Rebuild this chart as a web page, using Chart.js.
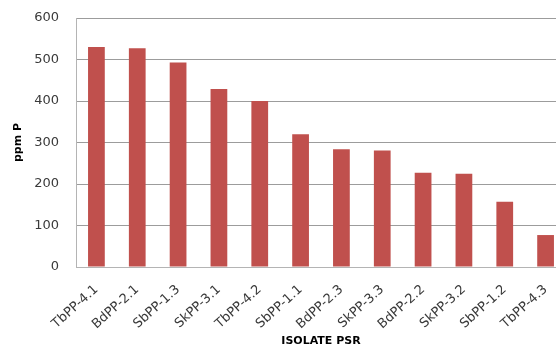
<!DOCTYPE html>
<html>
<head>
<meta charset="utf-8">
<script src="https://cdn.jsdelivr.net/npm/chart.js@4/dist/chart.umd.min.js"></script>
<style>
  html, body { margin: 0; padding: 0; background: #fff; overflow: hidden; width: 556px; height: 347px; }
  #c { display: block; }
</style>
</head>
<body>
<canvas id="c" width="566" height="347"></canvas>
<script>
// Phosphate solubilisation per isolate
const isolates = ['TbPP-4.1', 'BdPP-2.1', 'SbPP-1.3', 'SkPP-3.1', 'TbPP-4.2', 'SbPP-1.1',
                  'BdPP-2.3', 'SkPP-3.3', 'BdPP-2.2', 'SkPP-3.2', 'SbPP-1.2', 'TbPP-4.3'];
const ppmP = [530, 527, 493, 429, 400, 320, 284, 281, 227, 225, 157, 77];
const yMin = 0;
const yMax = 600;
const yStep = 100;

const tickFont = { family: 'DejaVu Sans', size: 13 };
const titleFont = { family: 'DejaVu Sans', size: 11, weight: 'bold', lineHeight: 1 };

new Chart(document.getElementById('c'), {
  type: 'bar',
  data: {
    labels: isolates,
    datasets: [{
      data: ppmP,
      backgroundColor: '#C0504D',
      borderWidth: 0,
      categoryPercentage: 1,
      barPercentage: 0.41
    }]
  },
  options: {
    responsive: false,
    devicePixelRatio: 1,
    animation: false,
    layout: { padding: { top: 18, right: 0, bottom: 0, left: 0 } },
    plugins: { legend: { display: false }, tooltip: { enabled: false } },
    scales: {
      x: {
        grid: { display: false, drawTicks: false },
        border: { display: true, color: '#b4b4b4', width: 1 },
        ticks: {
          color: '#3a3a3a',
          font: tickFont,
          minRotation: 42,
          maxRotation: 42,
          padding: 15,
          autoSkip: false
        },
        title: {
          display: true,
          text: 'ISOLATE PSR',
          color: '#000',
          font: titleFont,
          padding: { top: 0, bottom: 0 }
        },
        afterFit(scale) {
          scale.height = 80;
          scale.paddingLeft = 0;
          scale.paddingRight = 0;
        }
      },
      y: {
        min: yMin,
        max: yMax,
        grid: { color: '#9c9c9c', lineWidth: 1, drawTicks: false },
        border: { display: true, color: '#b4b4b4', width: 1 },
        ticks: {
          stepSize: yStep,
          color: '#3a3a3a',
          font: tickFont,
          padding: 17
        },
        title: {
          display: true,
          text: 'ppm P',
          color: '#000',
          font: titleFont,
          padding: { top: 13, bottom: 0 }
        },
        afterFit(scale) {
          scale.width = 76;
          scale.paddingTop = 0;
          scale.paddingBottom = 0;
        }
      }
    }
  }
});
</script>
</body>
</html>
